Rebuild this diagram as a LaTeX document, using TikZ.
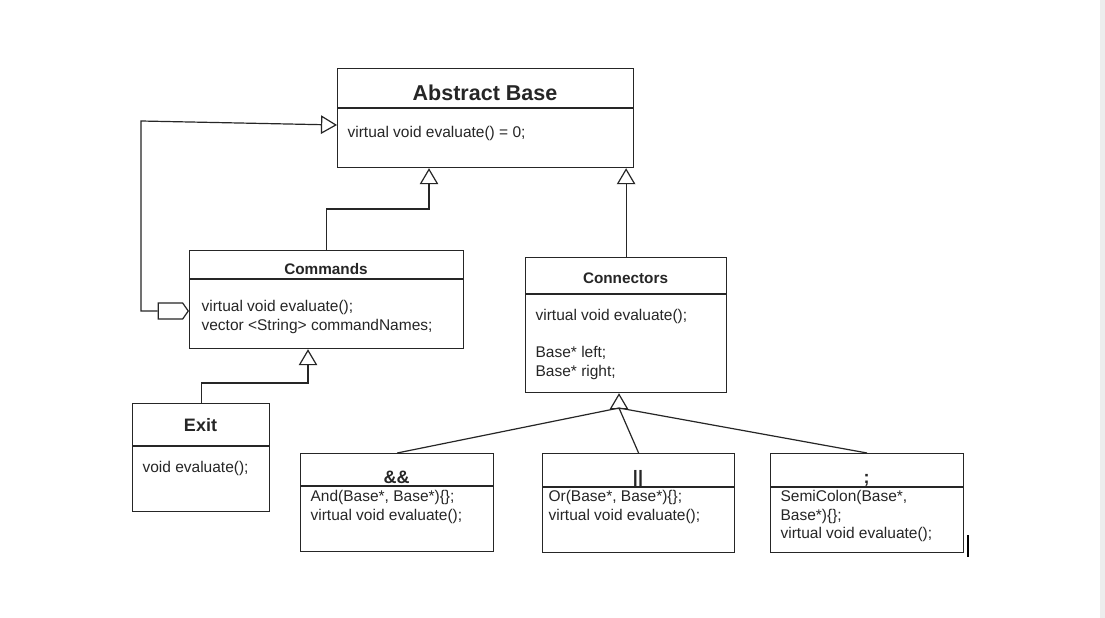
\documentclass[tikz,border=0pt]{standalone}
\usepackage{fontspec}
\setmainfont{Liberation Sans}
\usetikzlibrary{arrows.meta,calc,shapes.symbols}

\begin{document}
\begin{tikzpicture}[x=1pt,y=-1pt,color=black!85,line width=1.2pt,
  classe/.style={draw,anchor=north west,inner sep=0pt},
  titre/.style={anchor=base,inner sep=0pt,font=\fontsize{15.3}{18}\selectfont\bfseries},
  grandtitre/.style={titre,font=\fontsize{18}{22}\selectfont\bfseries},
  membres/.style={anchor=north west,inner sep=0pt,align=left,font=\fontsize{15.5}{18.6}\selectfont},
  herite/.style={-{Triangle[open,fill=white,length=16pt,width=18.5pt]}}]
\useasboundingbox (0,0) rectangle (1105,618);
\fill[white] (0,0) rectangle (1105,618);
\fill[black!7] (1100,0) rectangle (1105,618);
% classes
\node[classe,minimum width=296pt,minimum height=99pt] (base) at (337,68) {};
\draw ($(base.north west)+(0,40)$) -- ($(base.north east)+(0,40)$);
\node[titre,font=\fontsize{21.5}{26}\selectfont\bfseries] (basetitre) at (485,100) {Abstract Base};
\node[membres] (basemembres) at (347,124) {\strut virtual void evaluate() = 0;};

\node[classe,minimum width=274pt,minimum height=98pt] (commandes) at (189,250) {};
\draw ($(commandes.north west)+(0,29)$) -- ($(commandes.north east)+(0,29)$);
\node[titre] (commandestitre) at (326,274.5) {Commands};
\node[membres] (commandesmembres) at (201,298) {\strut virtual void evaluate();\\ vector <String> commandNames;};

\node[classe,minimum width=201pt,minimum height=135pt] (connecteurs) at (525,257) {};
\draw ($(connecteurs.north west)+(0,37)$) -- ($(connecteurs.north east)+(0,37)$);
\node[titre] (connecteurstitre) at (625.5,283.5) {Connectors};
\node[membres] (connecteursmembres) at (535,307) {\strut virtual void evaluate();\\[18.6pt] Base* left;\\ Base* right;};

\node[classe,minimum width=137pt,minimum height=108pt] (sortie) at (132,403) {};
\draw ($(sortie.north west)+(0,43)$) -- ($(sortie.north east)+(0,43)$);
\node[grandtitre] (sortietitre) at (200.5,431.5) {Exit};
\node[membres] (sortiemembres) at (142,459) {\strut void evaluate();};

\node[classe,minimum width=193pt,minimum height=98pt] (et) at (300,453) {};
\draw ($(et.north west)+(0,33)$) -- ($(et.north east)+(0,33)$);
\node[grandtitre] (ettitre) at (396.5,483) {\&\&};
\node[membres] (etmembres) at (310,488) {\strut And(Base*, Base*)\{\};\\ virtual void evaluate();};

\node[classe,minimum width=192pt,minimum height=99pt] (ou) at (542,453) {};
\draw ($(ou.north west)+(0,34)$) -- ($(ou.north east)+(0,34)$);
\node[grandtitre] (outitre) at (638,483) {||};
\node[membres] (oumembres) at (548,488) {\strut Or(Base*, Base*)\{\};\\ virtual void evaluate();};

\node[classe,minimum width=193pt,minimum height=99pt] (pointvirgule) at (770,453) {};
\draw ($(pointvirgule.north west)+(0,34)$) -- ($(pointvirgule.north east)+(0,34)$);
\node[grandtitre] (pointvirguletitre) at (866.5,483) {;};
\node[membres] (pointvirgulemembres) at (780,488) {\strut SemiColon(Base*,\\ Base*)\{\};\\ virtual void evaluate();};
% liens
\node[signal,signal to=east,signal pointer angle=110,draw,fill=white,minimum width=30pt,minimum height=16pt,inner sep=0pt,anchor=east] (agreg) at (189,311) {};
\coordinate (boucle) at (141,121);
\draw[herite] (agreg.west) -| (boucle) -- ($(base.north west)+(0,57)$);
\coordinate (coudecmd) at (429,209);
\draw[herite] (commandes.north) |- (coudecmd) -- (coudecmd |- base.south);
\draw[herite] (connecteurs.north) -- (connecteurs.north |- base.south);
\coordinate (coudesortie) at (308,383);
\draw[herite] (sortie.north) |- (coudesortie) -- (coudesortie |- commandes.south);
\coordinate (fourche) at (619,408);
\draw[herite] (fourche) -- (fourche |- connecteurs.south);
\draw (et.north) -- (fourche);
\draw (ou.north) -- (fourche);
\draw (pointvirgule.north) -- (fourche);
\draw[line width=2pt,black] (968,535) -- (968,557);
\end{tikzpicture}
\end{document}
